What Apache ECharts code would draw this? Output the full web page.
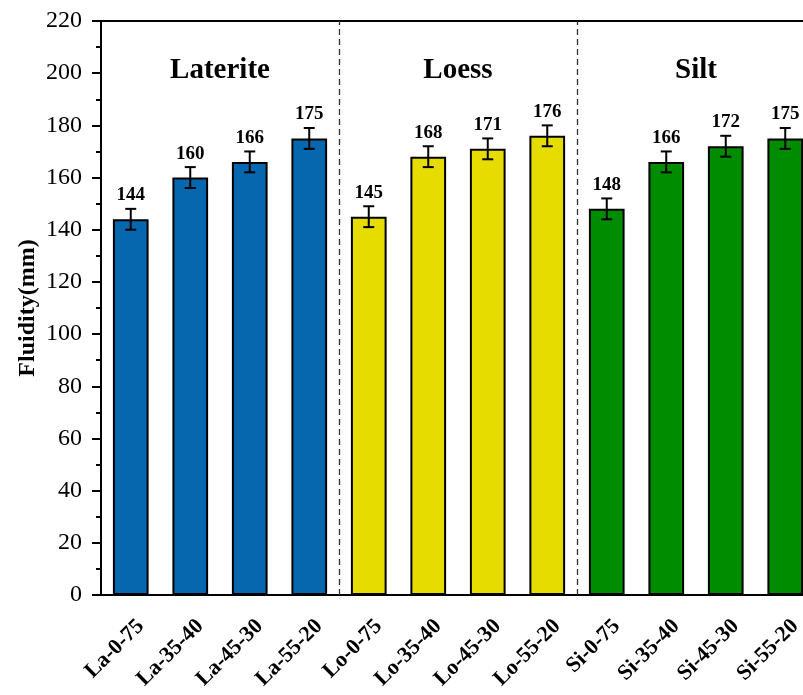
<!DOCTYPE html>
<html>
<head>
<meta charset="utf-8">
<script src="https://cdn.jsdelivr.net/npm/echarts@6/dist/echarts.min.js"></script>
<style>
  html, body { margin: 0; padding: 0; background: #fff; }
  #chart { width: 803px; height: 695px; }
</style>
</head>
<body>
<div id="chart"></div>
<script>
// Fluidity of the mixes, grouped by soil type
const categories = ['La-0-75', 'La-35-40', 'La-45-30', 'La-55-20',
                    'Lo-0-75', 'Lo-35-40', 'Lo-45-30', 'Lo-55-20',
                    'Si-0-75', 'Si-35-40', 'Si-45-30', 'Si-55-20'];
const fluidity = [144, 160, 166, 175, 145, 168, 171, 176, 148, 166, 172, 175];
const fluidityErr = [4, 4, 4, 4, 4, 4, 4, 4, 4, 4, 4, 4];
const groupNames = ['Laterite', 'Loess', 'Silt'];
const groupColors = ['#0667AE', '#E6DC00', '#008C00'];
const groupSize = 4;
const yTicks = { min: 0, max: 220, interval: 20 };

const serif = '"Times New Roman", "Liberation Serif", "DejaVu Serif", serif';
const chart = echarts.init(document.getElementById('chart'), null, { renderer: 'canvas' });

const titleLevel = 201;
const groupCenters = groupNames.map((_, g) => g * groupSize + groupSize / 2);
const groupBounds = groupNames.slice(1).map((_, g) => (g + 1) * groupSize);

chart.setOption({
  animation: false,
  backgroundColor: '#fff',
  grid: { left: 101, top: 21, width: 714, height: 574, containLabel: false, outerBoundsMode: 'none' },
  xAxis: [
    {
      type: 'category',
      data: categories,
      position: 'bottom',
      axisLine: { show: true, lineStyle: { color: '#000', width: 2 } },
      axisTick: { show: false },
      axisLabel: {
        rotate: 45,
        interval: 0,
        margin: 18,
        verticalAlign: 'top',
        lineHeight: 28,
        color: '#000',
        fontFamily: serif,
        fontWeight: 'bold',
        fontSize: 22
      }
    },
    {
      type: 'value',
      min: 0,
      max: categories.length,
      position: 'top',
      axisLine: { show: true, onZero: false, lineStyle: { color: '#000', width: 2 } },
      axisTick: { show: false },
      axisLabel: { show: false },
      splitLine: { show: false }
    }
  ],
  yAxis: {
    type: 'value',
    min: yTicks.min,
    max: yTicks.max,
    interval: yTicks.interval,
    name: 'Fluidity(mm)',
    nameLocation: 'middle',
    nameGap: 61,
    nameMoveOverlap: false,
    nameTextStyle: { color: '#000', fontFamily: serif, fontWeight: 'bold', fontSize: 24 },
    axisLine: { show: true, lineStyle: { color: '#000', width: 2 } },
    axisTick: { show: true, inside: false, length: 9, lineStyle: { color: '#000', width: 2 } },
    minorTick: { show: true, splitNumber: 2, length: 5, lineStyle: { color: '#000', width: 2 } },
    axisLabel: { color: '#000', fontFamily: serif, fontSize: 24, margin: 19 },
    splitLine: { show: false }
  },
  series: [
    {
      type: 'bar',
      data: fluidity,
      barWidth: '60%',
      itemStyle: {
        color: p => groupColors[Math.floor(p.dataIndex / groupSize)],
        borderColor: '#000',
        borderWidth: 2
      }
    },
    {
      // error bars with the value written above the cap
      type: 'custom',
      data: fluidity.map((v, i) => [i, v, fluidityErr[i]]),
      encode: { x: 0, y: 1 },
      z: 5,
      renderItem: (params, api) => {
        const i = api.value(0), v = api.value(1), e = api.value(2);
        const hi = api.coord([i, v + e]);
        const lo = api.coord([i, v - e]);
        const hw = 5.5;
        const st = { stroke: '#000', lineWidth: 2 };
        return {
          type: 'group',
          children: [
            { type: 'line', shape: { x1: hi[0], y1: hi[1], x2: lo[0], y2: lo[1] }, style: st },
            { type: 'line', shape: { x1: hi[0] - hw, y1: hi[1], x2: hi[0] + hw, y2: hi[1] }, style: st },
            { type: 'line', shape: { x1: lo[0] - hw, y1: lo[1], x2: lo[0] + hw, y2: lo[1] }, style: st },
            {
              type: 'text',
              x: hi[0], y: hi[1] - 4,
              style: {
                text: String(v),
                fill: '#000',
                font: 'bold 19px ' + serif,
                align: 'center',
                verticalAlign: 'bottom'
              }
            }
          ]
        };
      }
    },
    {
      // group titles and the dashed separators between groups
      type: 'scatter',
      xAxisIndex: 1,
      symbolSize: 0,
      itemStyle: { opacity: 1 },
      data: groupCenters.map(x => [x, titleLevel]),
      label: {
        show: true,
        position: 'inside',
        formatter: p => groupNames[p.dataIndex],
        color: '#000',
        opacity: 1,
        fontFamily: serif,
        fontWeight: 'bold',
        fontSize: 29
      },
      markLine: {
        silent: true,
        symbol: 'none',
        label: { show: false },
        lineStyle: { color: '#333', width: 1.3, type: [6, 4] },
        data: groupBounds.map(x => ({ xAxis: x }))
      }
    }
  ]
});
</script>
</body>
</html>
